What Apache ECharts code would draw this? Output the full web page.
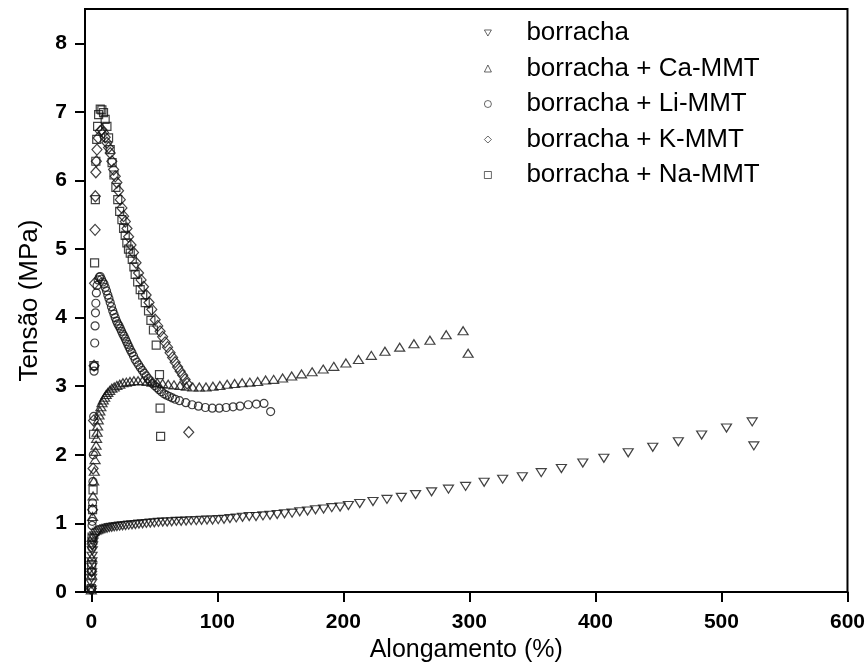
<!DOCTYPE html>
<html>
<head>
<meta charset="utf-8">
<script src="https://cdn.jsdelivr.net/npm/echarts@6/dist/echarts.min.js"></script>
<style>
  html, body { margin: 0; padding: 0; background: #fff; }
  #chart { width: 868px; height: 669px; }
</style>
</head>
<body>
<div id="chart"></div>
<script>
// legend names
var seriesNames = ['borracha', 'borracha + Ca-MMT', 'borracha + Li-MMT', 'borracha + K-MMT', 'borracha + Na-MMT'];
var xTicks = [0, 100, 200, 300, 400, 500, 600];
var yTicks = [0, 1, 2, 3, 4, 5, 6, 7, 8];

// [alongamento %, tensao MPa]
var borracha = [
  [0,0.03],[0.1,0.12],[0.2,0.2],[0.3,0.28],[0.4,0.36],[0.5,0.44],[0.6,0.52],[0.8,0.6],[1.0,0.67],[1.4,0.73],
  [2,0.78],[2.8,0.82],[3.8,0.85],[5,0.87],[6.3,0.89],[7.7,0.9],[9.2,0.91],[10.8,0.92],[12.5,0.93],[14.3,0.94],
  [16.2,0.945],[18.2,0.95],[20.3,0.955],[22.5,0.96],[24.8,0.965],[27.2,0.97],[29.7,0.975],[32.3,0.98],[35,0.985],
  [37.8,0.99],[40.7,0.995],[43.7,1.0],[46.8,1.005],[50,1.01],[53.3,1.015],[56.7,1.02],[60.2,1.02],[63.8,1.025],
  [67.5,1.03],[71.3,1.03],[75.2,1.035],[79.2,1.04],[83.3,1.04],[87.5,1.045],[91.8,1.05],[96.2,1.05],[100.7,1.055],
  [105.3,1.06],[110,1.07],[115,1.08],[120,1.09],[125.3,1.1],[130.7,1.1],[136.2,1.11],[141.8,1.12],[147.5,1.13],
  [153.3,1.14],[159.3,1.15],[165.4,1.17],[171.6,1.18],[177.9,1.2],[184.3,1.21],[190.8,1.23],[197.4,1.24],[204,1.26],
  [213,1.29],[223.5,1.32],[234.6,1.35],[246,1.38],[257.3,1.42],[270,1.46],[283.4,1.5],[297,1.54],[311.7,1.6],
  [326.4,1.645],[342,1.68],[357,1.74],[373,1.8],[390,1.88],[406.7,1.95],[426,2.03],[445.5,2.11],[465.8,2.19],
  [484.3,2.29],[504,2.39],[524.4,2.48],[525.7,2.13]
];
var caMMT = [
  [0,0.03],[0.2,0.25],[0.4,0.5],[0.7,0.8],[1.0,1.1],[1.4,1.4],[1.9,1.62],[2.4,1.76],[3.0,1.93],[3.4,2.05],
  [3.8,2.14],[4.2,2.24],[4.6,2.33],[5.0,2.42],[5.5,2.51],[6.1,2.58],[6.8,2.64],[7.6,2.7],[8.5,2.76],[9.5,2.8],
  [10.6,2.84],[11.8,2.88],[13.1,2.91],[14.6,2.94],[16.3,2.97],[18.2,2.99],[20.3,3.01],[22.6,3.03],[25.1,3.05],
  [27.8,3.06],[30.7,3.07],[33.8,3.08],[37.1,3.08],[40.6,3.08],[44.3,3.07],[48.2,3.06],[52.3,3.05],[56.6,3.04],
  [61,3.03],[65.6,3.02],[70.4,3.01],[75.4,3.0],[80.5,2.99],[85.7,2.99],[91,2.99],[96.5,3.0],[102,3.01],
  [107.8,3.03],[113.7,3.04],[119.7,3.05],[125.8,3.06],[132,3.07],[138.3,3.09],[144.7,3.1],[151.8,3.12],
  [159,3.15],[166.8,3.18],[175.2,3.21],[184,3.25],[192.4,3.29],[202,3.34],[212,3.39],[222.2,3.45],[233,3.51],
  [244.7,3.57],[256,3.62],[268.7,3.67],[281.6,3.75],[295,3.81],[299,3.48]
];
var liMMT = [
  [0,0.03],[0.2,0.3],[0.4,0.65],[0.6,0.97],[0.8,1.03],[1.0,1.3],[1.3,1.61],[1.6,2.0],[1.9,2.56],[2.2,3.22],
  [2.4,3.29],[2.7,3.63],[3.0,3.88],[3.3,4.07],[3.6,4.21],[4.0,4.36],[4.6,4.47],[5.4,4.55],[6.3,4.59],[7.1,4.6],
  [8.1,4.56],[9.1,4.52],[10.1,4.49],[11.1,4.44],[12.1,4.39],[13.1,4.33],[14,4.28],[15,4.22],[16,4.16],[17,4.1],
  [18,4.05],[19,4.0],[20,3.95],[21,3.91],[22,3.88],[23,3.84],[24,3.8],[25,3.76],[26,3.73],[27,3.69],[28,3.65],
  [29,3.61],[30,3.57],[31,3.53],[32.2,3.49],[33.5,3.44],[34.8,3.39],[36.2,3.35],[37.6,3.31],[39,3.27],
  [40.5,3.23],[42,3.19],[43.6,3.15],[45.2,3.11],[46.8,3.08],[48.5,3.04],[50.2,3.01],[52,2.98],[53.8,2.95],
  [55.7,2.92],[57.7,2.89],[59.8,2.87],[62,2.85],[64.3,2.83],[66.7,2.81],[70,2.79],[75,2.76],[80,2.73],[85,2.71],
  [90.5,2.69],[96,2.68],[101.5,2.68],[107,2.69],[112.5,2.7],[118,2.71],[124.5,2.73],[131,2.74],[137,2.75],
  [142.3,2.63]
];
var kMMT = [
  [0,0.05],[0.3,0.3],[0.6,0.7],[1,1.2],[1.4,1.8],[1.8,2.5],[2.2,3.3],[2.6,4.5],[3.0,5.28],[3.2,5.77],
  [3.6,6.12],[4.0,6.28],[4.5,6.45],[5.5,6.62],[7.1,6.72],[8.4,6.74],[9.7,6.7],[11,6.63],[12.4,6.55],[13.7,6.48],
  [15,6.4],[16.3,6.28],[17.7,6.16],[19,6.06],[20.3,5.97],[21.6,5.85],[23,5.72],[24.3,5.6],[25.6,5.48],[27,5.4],
  [28.3,5.3],[29.6,5.18],[31.5,5.06],[33.5,4.95],[35.5,4.8],[37.5,4.65],[39.5,4.55],[41.4,4.45],[43.5,4.33],
  [45.8,4.22],[48,4.12],[50.7,3.97],[52.7,3.88],[54.6,3.8],[56.6,3.72],[58.6,3.64],[60.5,3.57],[62.5,3.49],
  [64.5,3.42],[66.5,3.35],[68.5,3.28],[70.5,3.22],[72.5,3.16],[74.4,3.1],[76,3.04],[77.3,2.33]
];
var naMMT = [
  [0,0.05],[0.3,0.4],[0.6,0.8],[1,1.2],[1.4,1.49],[1.8,2.3],[2.1,3.3],[2.6,4.8],[3.2,5.72],[3.6,6.28],
  [4.3,6.6],[5,6.79],[5.8,6.96],[7.1,7.04],[8.4,7.03],[9.7,6.99],[11,6.89],[12.4,6.79],[13.7,6.62],[15,6.45],
  [16.5,6.26],[18,6.08],[19.5,5.9],[21,5.72],[22.5,5.55],[24.3,5.43],[25.6,5.3],[26.9,5.2],[28.2,5.09],
  [29.5,5.0],[30.9,4.94],[32.5,4.85],[33.8,4.74],[34.8,4.63],[36.8,4.52],[38.8,4.41],[40.8,4.33],[42.8,4.22],
  [45.4,4.1],[47.3,3.96],[49.3,3.82],[51.5,3.6],[54.1,3.17],[54.6,2.68],[55,2.27]
];

var font = 'Liberation Sans, Arial, sans-serif';
var hollow = { color: 'rgba(0,0,0,0)', borderColor: '#111', borderWidth: 1.2 };

function makeSeries(name, data, symbol, size) {
  return {
    name: name,
    type: 'scatter',
    data: data,
    symbol: symbol,
    symbolSize: size,
    itemStyle: hollow,
    emphasis: { disabled: true },
    animation: false
  };
}

var chart = echarts.init(document.getElementById('chart'));
var option = {
  backgroundColor: '#fff',
  animation: false,
  textStyle: { fontFamily: font },
  grid: {
    left: 85, right: 18, top: 9, bottom: 77,
    show: true, borderColor: '#000', borderWidth: 2, backgroundColor: 'transparent'
  },
  legend: {
    orient: 'vertical',
    left: 484, top: 20,
    padding: 0,
    itemWidth: 7, itemHeight: 7,
    itemGap: 9.5,
    itemStyle: { borderWidth: 0.8 },
    textStyle: { fontSize: 26, lineHeight: 24, color: '#000', fontFamily: font, padding: [0, 0, 0, 30] },
    data: seriesNames
  },
  xAxis: {
    type: 'value', min: -5, max: 600,
    name: 'Alongamento (%)', nameLocation: 'middle', nameGap: 39,
    nameTextStyle: { fontSize: 25, color: '#000', fontFamily: font },
    axisLine: { show: true, onZero: false, lineStyle: { color: '#000', width: 2 } },
    axisTick: { show: true, customValues: xTicks, length: 10, lineStyle: { color: '#000', width: 2 } },
    axisLabel: { customValues: xTicks, fontSize: 21, fontWeight: 'bold', color: '#000', margin: 20, fontFamily: font },
    splitLine: { show: false }
  },
  yAxis: {
    type: 'value', min: 0, max: 8.5,
    name: 'Tensão (MPa)', nameLocation: 'middle', nameGap: 42,
    nameTextStyle: { fontSize: 26, color: '#000', fontFamily: font },
    axisLine: { show: true, onZero: false, lineStyle: { color: '#000', width: 2 } },
    axisTick: { show: true, customValues: yTicks, length: 10, lineStyle: { color: '#000', width: 2 } },
    axisLabel: { customValues: yTicks, fontSize: 21, fontWeight: 'bold', color: '#000', margin: 18, fontFamily: font },
    splitLine: { show: false }
  },
  series: [
    makeSeries(seriesNames[0], borracha, 'path://M0,0L10,0L5,8.66Z', [10, 8]),
    makeSeries(seriesNames[1], caMMT, 'triangle', [10, 8]),
    makeSeries(seriesNames[2], liMMT, 'circle', 8),
    makeSeries(seriesNames[3], kMMT, 'diamond', [10, 11]),
    makeSeries(seriesNames[4], naMMT, 'rect', 8)
  ]
};
chart.setOption(option);
</script>
</body>
</html>
